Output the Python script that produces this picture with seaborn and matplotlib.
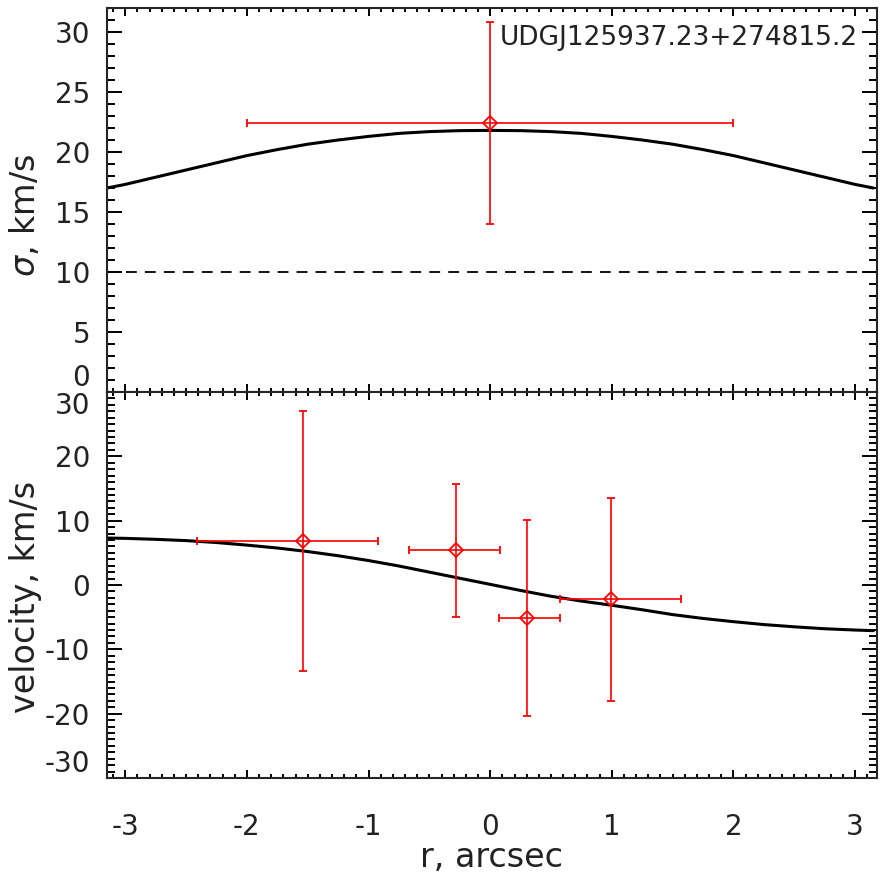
import numpy as np
import pandas as pd
import matplotlib
matplotlib.use('Agg')
import matplotlib.pyplot as plt
import seaborn as sns
from matplotlib.ticker import MultipleLocator

# ------------------Data------------------
# model curves (sampled along r)
r_model = [-3.15, -3.0, -2.75, -2.5, -2.25, -2.0, -1.75, -1.5, -1.25, -1.0, -0.75, -0.5, -0.25,
           0.0, 0.25, 0.5, 0.75, 1.0, 1.25, 1.5, 1.75, 2.0, 2.25, 2.5, 2.75, 3.0, 3.15]
sigma_model = [17.0, 17.3, 17.9, 18.5, 19.1, 19.7, 20.2, 20.65, 21.0, 21.3, 21.55, 21.7, 21.78,
               21.8, 21.78, 21.7, 21.55, 21.3, 21.0, 20.65, 20.2, 19.7, 19.1, 18.5, 17.9, 17.3, 17.0]
vel_model = [7.3, 7.25, 7.1, 6.9, 6.6, 6.2, 5.75, 5.2, 4.55, 3.8, 2.95, 2.0, 1.05,
             0.1, -0.85, -1.75, -2.5, -3.15, -3.85, -4.6, -5.2, -5.7, -6.15, -6.5, -6.8, -7.0, -7.1]

# measured dispersion (one bin)
sig_r = [0.0]
sig_rerr_lo = [2.0]
sig_rerr_hi = [2.0]
sig_val = [22.4]
sig_err = [8.4]
sigma_limit = 10

# measured velocities (bins are not symmetric about the points)
vel_r = [-1.54, -0.28, 0.30, 0.99]
vel_rerr_lo = [0.87, 0.39, 0.23, 0.42]
vel_rerr_hi = [0.62, 0.36, 0.27, 0.575]
vel_val = [6.8, 5.4, -5.1, -2.2]
vel_err = [20.2, 10.3, 15.2, 15.8]

object_name = 'UDGJ125937.23+274815.2'

# ------------------Plotting------------------
sns.set_style('ticks')
plt.rcParams['font.family'] = ['DejaVu Sans']
plt.rcParams['mathtext.fontset'] = 'dejavusans'
plt.rcParams['axes.unicode_minus'] = False

model = pd.DataFrame({'r': r_model, 'sigma': sigma_model, 'vel': vel_model})

fig = plt.figure(figsize=(8.86, 8.86), dpi=100)
W = 886.0
ax1 = fig.add_axes([107 / W, 1 - 392 / W, 770 / W, 384 / W])
ax2 = fig.add_axes([107 / W, 1 - 778 / W, 770 / W, 386 / W], sharex=ax1)

tick_fs = 20
label_fs = 24
ink = '#222222'
red = '#ff0000'

# top panel: dispersion
sns.lineplot(data=model, x='r', y='sigma', ax=ax1, color='black', lw=2.2, sort=False)
ax1.axhline(sigma_limit, color='black', lw=1.3, dashes=(6, 4.5))
ax1.errorbar(sig_r, sig_val, xerr=[sig_rerr_lo, sig_rerr_hi], yerr=sig_err, fmt='D', ms=7,
             mfc='none', mec=red, mew=1.3, ecolor=red, elinewidth=1.2, capsize=3, capthick=1.2)
ax1.text(0.975, 0.955, object_name, transform=ax1.transAxes, ha='right', va='top', fontsize=19,
         color=ink)

# bottom panel: velocity
sns.lineplot(data=model, x='r', y='vel', ax=ax2, color='black', lw=2.2, sort=False)
ax2.errorbar(vel_r, vel_val, xerr=[vel_rerr_lo, vel_rerr_hi], yerr=vel_err, fmt='D', ms=7,
             mfc='none', mec=red, mew=1.3, ecolor=red, elinewidth=1.2, capsize=3, capthick=1.2)

ax1.set_xlim(-3.15, 3.18)
ax1.set_ylim(0, 32)
ax2.set_ylim(-30, 30)

ax1.yaxis.set_major_locator(MultipleLocator(5))
ax1.yaxis.set_minor_locator(MultipleLocator(1))
ax2.yaxis.set_major_locator(MultipleLocator(10))
ax2.yaxis.set_minor_locator(MultipleLocator(1))
ax2.xaxis.set_major_locator(MultipleLocator(1))
ax2.xaxis.set_minor_locator(MultipleLocator(0.1))

for ax in (ax1, ax2):
    for s in ax.spines.values():
        s.set_linewidth(1.5)
        s.set_visible(True)
    ax.tick_params(which='both', direction='in', top=True, right=True, color='black', width=1.4)
    ax.tick_params(axis='y', which='major', length=11, labelsize=tick_fs, pad=12, labelcolor=ink)
    ax.tick_params(axis='y', which='minor', length=5.5)
    ax.tick_params(axis='x', which='major', length=5.5, labelsize=tick_fs, pad=25, labelcolor=ink)
    ax.tick_params(axis='x', which='minor', length=2.8)
    ax.set_xlabel('')

ax1.tick_params(axis='x', labelbottom=False)
ax1.set_yticks([0, 5, 10, 15, 20, 25, 30])
ax2.set_yticks([-30, -20, -10, 0, 10, 20, 30])
ax2.set_xticks([-3, -2, -1, 0, 1, 2, 3])

# keep edge labels inside the panels, as in the original
fig.canvas.draw()
ax1.get_yticklabels()[0].set_va('bottom')
ax2.get_yticklabels()[-1].set_va('top')
ax2.get_yticklabels()[0].set_va('bottom')

ax1.set_ylabel(r'$\sigma$, km/s', fontsize=label_fs, color=ink)
ax2.set_ylabel('velocity, km/s', fontsize=label_fs, color=ink)
ax1.yaxis.set_label_coords(-0.084, 0.46)
ax2.yaxis.set_label_coords(-0.084, 0.47)
ax2.set_xlabel('r, arcsec', fontsize=label_fs, color=ink, labelpad=0)

fig.savefig('out.png', dpi=100)
